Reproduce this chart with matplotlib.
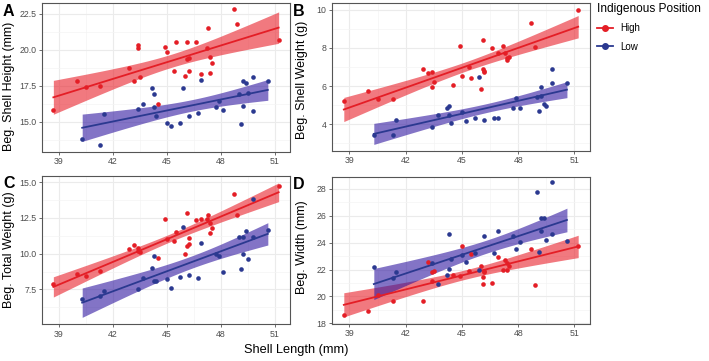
### Module import ###
import numpy as np
import matplotlib
matplotlib.use("Agg")
import matplotlib.pyplot as plt
from matplotlib.lines import Line2D
from matplotlib.ticker import MultipleLocator, FormatStrFormatter

plt.rcParams['font.family'] = ['Liberation Sans', 'DejaVu Sans']

### data ###
# shell length of each snail, same for all four panels
high_len = [38.7, 40.0, 40.5, 41.3, 42.9, 43.2, 43.4, 43.4, 43.5, 44.5, 44.9, 45.0, 45.4, 45.5, 46.0,
            46.1, 46.1, 46.2, 46.2, 46.6, 46.9, 47.2, 47.3, 47.4, 47.4, 47.5, 48.7, 48.9, 51.2]
low_len = [40.3, 41.3, 41.5, 43.4, 43.7, 44.2, 44.3, 44.3, 44.4, 45.0, 45.2, 45.7, 45.9, 46.2,
           46.7, 46.9, 47.7, 47.9, 48.1, 49.0, 49.1, 49.2, 49.2, 49.4, 49.5, 49.8, 49.8, 50.6]

high_height = [15.8, 17.8, 17.4, 17.5, 18.7, 17.8, 20.3, 20.1, 18.1, 16.2, 20.2, 19.8, 18.5, 20.5, 18.2,
               20.5, 19.35, 19.4, 18.5, 20.5, 18.3, 20.1, 21.5, 19.5, 18.4, 19.1, 22.8, 21.8, 20.7]
low_height = [13.8, 13.4, 15.5, 15.9, 16.2, 17.3, 16.9, 16.0, 15.4, 14.9, 14.7, 14.9, 17.3, 15.4,
              15.6, 17.9, 16.0, 16.45, 15.8, 16.9, 14.8, 17.85, 16.1, 17.7, 17.0, 18.1, 15.7, 17.85]

high_shell_wt = [5.23, 5.74, 5.32, 5.35, 6.88, 6.7, 6.75, 5.93, 6.21, 6.05, 8.12, 6.53, 7.02, 6.42, 5.84,
                 8.42, 6.88, 6.75, 6.8, 8.0, 7.72, 8.12, 7.75, 7.37, 7.45, 7.51, 9.3, 8.07, 10.0]
low_shell_wt = [3.42, 3.42, 4.25, 3.86, 4.51, 4.88, 4.95, 4.47, 4.07, 4.65, 4.16, 4.33, 6.46, 4.21,
                4.35, 4.33, 4.83, 5.38, 4.88, 5.41, 4.68, 5.96, 5.49, 5.04, 4.98, 6.91, 6.14, 6.14]

high_total_wt = [7.9, 8.56, 8.42, 8.79, 10.35, 10.59, 10.42, 10.2, 10.1, 9.7, 12.45, 11.05, 10.91, 11.5, 9.96,
                 12.83, 10.56, 11.12, 10.66, 12.36, 12.41, 12.45, 12.69, 11.45, 12.17, 11.82, 14.2, 12.71, 14.76]
low_total_wt = [6.83, 7.02, 7.39, 7.53, 8.32, 8.98, 9.84, 8.11, 8.07, 8.21, 7.62, 8.39, 11.85, 8.51,
                8.32, 10.75, 10.0, 9.84, 8.74, 11.19, 8.95, 11.19, 9.96, 11.59, 9.63, 13.83, 11.19, 11.66]

high_width = [18.6, 18.92, 20.08, 19.63, 19.63, 22.53, 21.12, 21.85, 21.9, 21.62, 21.54, 23.72, 21.86, 23.15, 22.23,
              21.44, 20.92, 21.79, 21.91, 21.0, 22.93, 21.94, 22.73, 22.48, 21.94, 22.3, 23.52, 20.82, 23.72]
low_width = [22.2, 21.37, 21.82, 22.48, 20.9, 21.62, 22.04, 24.64, 22.78, 23.1, 22.53, 23.23, 21.99, 24.51,
             23.23, 24.83, 24.51, 23.52, 24.01, 27.73, 23.32, 25.82, 24.9, 25.82, 24.21, 28.47, 24.64, 24.14]

groups = ['High', 'Low']
red = '#E41E26'
blue = '#2B3990'
red_fill = '#E8202A'
blue_fill = '#3018A0'

### linear fit with 95% band, like geom_smooth(method = 'lm') ###
def lm_band(x, y, t=2.05):
    x = np.array(x)
    y = np.array(y)
    b, a = np.polyfit(x, y, 1)
    xs = np.linspace(x.min(), x.max(), 80)
    n = len(x)
    s = np.sqrt(np.sum((y - (a + b * x)) ** 2) / (n - 2))
    sxx = np.sum((x - x.mean()) ** 2)
    se = s * np.sqrt(1 / n + (xs - x.mean()) ** 2 / sxx)
    fit = a + b * xs
    return xs, fit, fit - t * se, fit + t * se

### figure, axes placed in pixels ###
W, H = 709, 361
fig = plt.figure(figsize=(W / 100, H / 100), dpi=100)

def px_axes(l, t, r, b):
    return fig.add_axes([l / W, 1 - b / H, (r - l) / W, (b - t) / H])

panels = [
    # letter, box (l, t, r, b px), high y, low y, ylim, y step, ylabel, tick format, ylabel centre (px)
    ('A', (42, 3, 290, 151.5), high_height, low_height, (12.92, 23.24), 2.5, 'Beg. Shell Height (mm)', '%.1f', 86),
    ('B', (332, 3, 590, 150.5), high_shell_wt, low_shell_wt, (2.63, 10.35), 2, 'Beg. Shell Weight (g)', '%d', 80),
    ('C', (42, 176, 290, 324), high_total_wt, low_total_wt, (5.08, 15.44), 2.5, 'Beg. Total Weight (g)', '%.1f', 250),
    ('D', (332, 176.5, 590, 323.7), high_width, low_width, (17.98, 28.91), 2, 'Beg. Width (mm)', '%d', 247),
]

for letter, box, yh, yl, ylim, ystep, ylab, fmt, lab_y in panels:
    ax = px_axes(*box)
    ax.set_xlim(38.07, 51.83)
    ax.set_ylim(*ylim)
    ax.xaxis.set_major_locator(MultipleLocator(3))
    ax.xaxis.set_minor_locator(MultipleLocator(1.5))
    ax.yaxis.set_major_locator(MultipleLocator(ystep))
    ax.yaxis.set_minor_locator(MultipleLocator(ystep / 2))
    ax.yaxis.set_major_formatter(FormatStrFormatter(fmt))
    ax.grid(which='major', color='#EBEBEB', lw=0.8)
    ax.grid(which='minor', color='#F4F4F4', lw=0.5)
    ax.set_axisbelow(True)
    for sp in ax.spines.values():
        sp.set_color('#555555')
        sp.set_linewidth(0.8)
    ax.tick_params(which='major', length=2, width=0.6, color='#555555', labelsize=6.3,
                   labelcolor='#4D4D4D', pad=2)
    ax.tick_params(which='minor', length=0)

    for xx, yy, c, fc in [(high_len, yh, red, red_fill), (low_len, yl, blue, blue_fill)]:
        xs, fit, lo, hi = lm_band(xx, yy)
        ax.fill_between(xs, lo, hi, color=fc, alpha=0.6, lw=0, zorder=2)
        ax.plot(xs, fit, color=c, lw=1.3, zorder=3)
        ax.scatter(xx, yy, s=11, color=c, lw=0, zorder=4)

    ax.set_ylabel(ylab, fontsize=9, color='black')
    lab_x = 15 if letter in 'AC' else 308
    ax.yaxis.set_label_coords((lab_x - box[0]) / (box[2] - box[0]), (box[3] - lab_y) / (box[3] - box[1]))
    fig.text((box[0] - 39) / W, 1 - (box[1] + 8) / H, letter, fontsize=11.5, fontweight='bold',
             ha='left', va='center')

fig.text(296 / W, 1 - 350 / H, 'Shell Length (mm)', fontsize=9.2, ha='center', va='center')

### legend ###
handles = [Line2D([], [], color=red, marker='o', markersize=4, lw=1.3),
           Line2D([], [], color=blue, marker='o', markersize=4, lw=1.3)]
leg = fig.legend(handles, groups, loc='upper left', bbox_to_anchor=(597 / W, 1 - 3 / H), frameon=False,
                 title='Indigenous Position', fontsize=7, title_fontsize=8.6, handlelength=1.65,
                 handletextpad=0.7, labelspacing=0.85, borderpad=0, borderaxespad=0, alignment='left')

plt.savefig('out.png', dpi=100)
